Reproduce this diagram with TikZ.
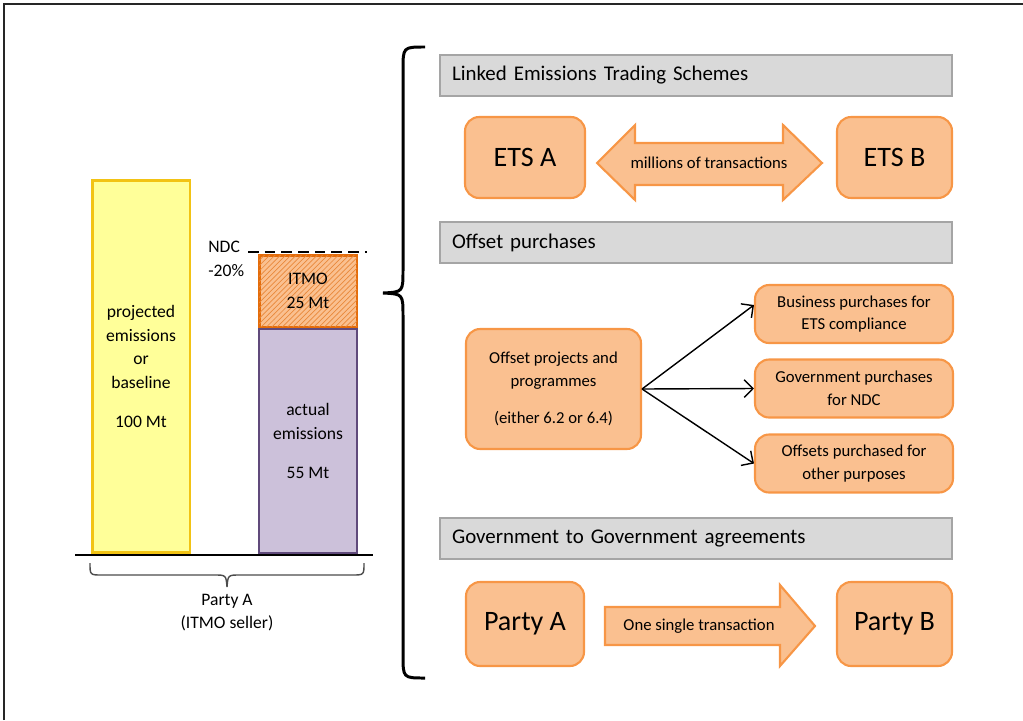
\documentclass[tikz,border=0pt]{standalone}
\usepackage{fontspec}
\setmainfont{Carlito}
\usetikzlibrary{arrows.meta,patterns,calc}
\definecolor{yfill}{HTML}{FFFF99}
\definecolor{ydraw}{HTML}{F2C314}
\definecolor{pfill}{HTML}{CCC1DA}
\definecolor{pdraw}{HTML}{604A7B}
\definecolor{ofill}{HTML}{FAC090}
\definecolor{odraw}{HTML}{F79646}
\definecolor{idraw}{HTML}{E46C0A}
\definecolor{gfill}{HTML}{D9D9D9}
\definecolor{gdraw}{HTML}{A5A5A5}
\begin{document}
\begin{tikzpicture}[x=0.02cm,y=-0.02cm,
  hdr/.style={draw=gdraw,fill=gfill,line width=1.2pt,minimum width=10.24cm,minimum height=0.82cm,
    text width=9.76cm,align=left,inner xsep=0.24cm,font=\fontsize{11.9}{13}\selectfont},
  obox/.style={draw=odraw,fill=ofill,line width=1.2pt,rounded corners=8pt,align=center},
  big/.style={font=\fontsize{16}{18}\selectfont},
  small/.style={font=\fontsize{9.5}{13}\selectfont},
  bartxt/.style={align=center,font=\fontsize{10}{13.4}\selectfont},
  shp/.style={draw=odraw,fill=ofill,line width=1.2pt,line join=miter},
  con/.style={line width=0.8pt,-{Straight Barb[length=5pt,width=10pt]}}]
\useasboundingbox (0,0) rectangle (1023,720);
% frame
\draw[line width=1.2pt,black!85] (4,720) -- (4,4) -- (1023,4);
% bars
\node[draw=ydraw,fill=yfill,line width=1.7pt,minimum width=1.96cm,minimum height=7.46cm,bartxt] (yb) at (141,366.5)
  {projected\\emissions\\or\\baseline\\[8.8pt]100 Mt};
\node[draw=pdraw,fill=pfill,line width=1.2pt,minimum width=1.96cm,minimum height=4.48cm,bartxt] (pb) at (308,441)
  {actual\\emissions\\[8.8pt]55 Mt};
\node[draw=idraw,fill=ofill,line width=1.7pt,minimum width=1.96cm,minimum height=1.44cm,bartxt,
  postaction={pattern=north east lines,pattern color=idraw!80}] (ib) at (308,291)
  {ITMO\\25 Mt};
\coordinate (d1) at (248,252);
\coordinate (d2) at (367,252);
\draw[line width=0.9pt,dash pattern=on 6pt off 3.5pt] (d1) -- (d2);
\node[bartxt,align=left,anchor=north west,inner sep=0pt] (ndc) at (208,241) {NDC\\-20\%};
\coordinate (bl1) at (75,555);
\coordinate (bl2) at (373,555);
\draw[line width=1.2pt] (bl1) -- (bl2);
% small brace
\draw[black!70,line width=0.8pt] (90,563) .. controls (90,575) .. (102,575) -- (214,575)
  .. controls (226,575) .. (227,587) .. controls (228,575) .. (240,575) -- (352,575)
  .. controls (364,575) .. (364,563);
\node[bartxt] (pa) at (227,612.5) {Party A\\(ITMO seller)};
% big brace
\draw[line width=1.7pt] (425,47) .. controls (403,47) .. (403,70) -- (403,270)
  .. controls (403,292) .. (383,293) .. controls (403,294) .. (403,316) -- (403,655)
  .. controls (403,678) .. (425,678);
% headers
\node[hdr] (h1) at (696,75.5) {Linked Emissions Trading Schemes};
\node[hdr] (h2) at (696,242.5) {Offset purchases};
\node[hdr] (h3) at (696,538.5) {Government to Government agreements};
% ETS
\node[obox,big,minimum width=2.4cm,minimum height=1.62cm] (etsa) at (525,157.5) {ETS A};
\node[obox,big,minimum width=2.3cm,minimum height=1.62cm] (etsb) at (894.5,157.5) {ETS B};
\draw[shp] (597,163) -- (635,125) -- (635,143) -- (783,143) -- (783,125) -- (822,163)
  -- (783,200) -- (783,185) -- (635,185) -- (635,200) -- cycle;
\node[small] (mt) at (709,163) {millions of transactions};
% offsets
\node[obox,small,minimum width=3.5cm,minimum height=2.4cm] (off) at (553.5,389)
  {Offset projects and\\programmes\\[8pt](either 6.2 or 6.4)};
\node[obox,small,minimum width=3.96cm,minimum height=1.16cm] (b1) at (854,314) {Business purchases for\\ETS compliance};
\node[obox,small,minimum width=3.96cm,minimum height=1.16cm] (b2) at (854,388.5) {Government purchases\\for NDC};
\node[obox,small,minimum width=3.96cm,minimum height=1.16cm] (b3) at (854,463.5) {Offsets purchased for\\other purposes};
\draw[con] (off.east) -- ([yshift=0.18cm]b1.west);
\draw[con] (off.east) -- (b2.west);
\draw[con] (off.east) -- (b3.west);
% government
\node[obox,big,minimum width=2.36cm,minimum height=1.68cm] (ga) at (525,624) {Party A};
\node[obox,big,minimum width=2.3cm,minimum height=1.68cm] (gb) at (894.5,624) {Party B};
\draw[shp] (605,607) -- (780,607) -- (780,585) -- (815,626) -- (780,666) -- (780,645) -- (605,645) -- cycle;
\node[small] (st) at (699,626) {One single transaction};
\end{tikzpicture}
\end{document}
